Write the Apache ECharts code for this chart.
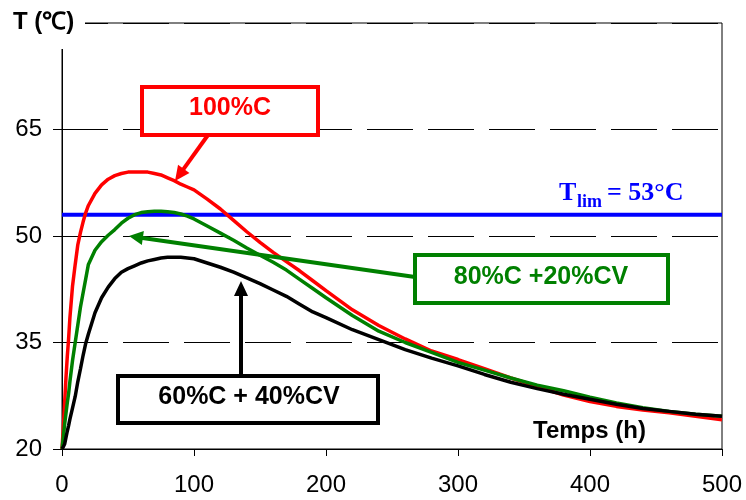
<!DOCTYPE html>
<html>
<head>
<meta charset="utf-8">
<script src="https://cdn.jsdelivr.net/npm/echarts@6/dist/echarts.min.js"></script>
<style>html,body{margin:0;padding:0;background:#fff;}#c{width:746px;height:500px;}</style>
</head>
<body>
<div id="c"></div>
<script>
// ---- data ----
var hours = [0,1,2,3,4,5,6,8,10,12,14,16,18,20,25,30,35,40,45,50,55,60,65,70,75,80,85,90,95,100,110,120,130,140,150,160,170,180,190,200,220,240,260,280,300,320,340,360,380,400,420,440,460,480,500];
var red100 = [20,23,26.5,30,33,35.5,38.5,43,46,48.8,50.5,52,53.3,54.3,56,57.2,58,58.5,58.8,59,59,59,59,58.8,58.6,58.2,57.8,57.3,56.9,56.5,55.2,53.8,52.2,50.6,49.1,47.7,46.4,45.1,43.7,42.3,39.6,37.4,35.5,33.8,32.6,31.3,30.0,28.8,27.6,26.7,26.0,25.5,25.1,24.6,24.1];
var green80 = [20,21.7,23.5,25,26.5,27.8,29.5,32.5,35,37.5,40,42,44,46,48,49.2,50.1,50.9,51.8,52.5,53,53.3,53.4,53.5,53.5,53.4,53.3,53.1,52.8,52.4,51.4,50.4,49.4,48.3,47.3,46.3,45.2,43.9,42.6,41.3,38.8,36.6,35.0,33.6,32.2,31.1,30.0,29.0,28.2,27.3,26.5,25.8,25.3,24.9,24.6];
var black60 = [20,20.3,20.7,21.6,22.5,23.3,24.2,25.8,27.4,29.5,31.3,33.2,34.9,36.2,39.2,41.3,42.8,44,44.9,45.4,45.8,46.2,46.5,46.7,46.9,47,47,47,46.9,46.8,46.2,45.6,44.9,44.1,43.3,42.4,41.5,40.4,39.3,38.5,36.8,35.4,34.0,32.8,31.7,30.5,29.4,28.5,27.7,27.0,26.3,25.7,25.3,24.9,24.6];
var tLimit = 53;
var xTicks = [0,100,200,300,400,500];
var yTicks = [20,35,50,65];
var labels = ["100%C", "80%C +20%CV", "60%C + 40%CV"];

function pairs(ys){ return hours.map(function(h,i){ return [h, ys[i]]; }); }

function arrow(x1,y1,x2,y2,color,w,hl,hw){
  var dx=x2-x1, dy=y2-y1, L=Math.sqrt(dx*dx+dy*dy), ux=dx/L, uy=dy/L;
  var bx=x2-ux*hl, by=y2-uy*hl, px=-uy, py=ux;
  return [
    {type:'line', z:100, shape:{x1:x1,y1:y1,x2:bx+ux*2,y2:by+uy*2}, style:{stroke:color,lineWidth:w}},
    {type:'polygon', z:100, shape:{points:[[x2,y2],[bx+px*hw/2,by+py*hw/2],[bx-px*hw/2,by-py*hw/2]]}, style:{fill:color}}
  ];
}

var font = '"Liberation Sans", Arial, sans-serif';
var serif = '"Liberation Serif", "Times New Roman", serif';
var chart = echarts.init(document.getElementById('c'), null, {renderer:'canvas'});

var graphics = [
  {type:'rect', z:100, shape:{x:50,y:8,width:35,height:41}, style:{fill:'#fff'}},
  {type:'text', z:101, left:13, top:10, style:{text:'T (℃)', font:'bold 24px '+font, fill:'#000'}},
  {type:'text', z:101, left:533, top:419, style:{text:'Temps (h)', font:'bold 24px '+font, fill:'#000'}},
  {type:'text', z:101, left:559, top:180, style:{text:'T', font:'bold 26px '+serif, fill:'#0000ff'}},
  {type:'text', z:101, left:577, top:193, style:{text:'lim', font:'bold 18px '+serif, fill:'#0000ff'}},
  {type:'text', z:101, left:607, top:180, style:{text:'= 53°C', font:'bold 26px '+serif, fill:'#0000ff'}},
  {type:'rect', z:100, shape:{x:142,y:87,width:176,height:48}, style:{fill:'#fff',stroke:'#ff0000',lineWidth:4}},
  {type:'text', z:101, x:230, y:108, style:{text:labels[0], font:'bold 25px '+font, fill:'#ff0000', textAlign:'center', textVerticalAlign:'middle'}},
  {type:'rect', z:100, shape:{x:415,y:255,width:253,height:48}, style:{fill:'#fff',stroke:'#008000',lineWidth:4}},
  {type:'text', z:101, x:541, y:277, style:{text:labels[1], font:'bold 25px '+font, fill:'#008000', textAlign:'center', textVerticalAlign:'middle'}},
  {type:'rect', z:100, shape:{x:118,y:376,width:260,height:47}, style:{fill:'#fff',stroke:'#000',lineWidth:4}},
  {type:'text', z:101, x:249, y:397, style:{text:labels[2], font:'bold 25px '+font, fill:'#000', textAlign:'center', textVerticalAlign:'middle'}}
];
graphics = graphics.concat(arrow(208,135,175,181,'#ff0000',4,15,14));
graphics = graphics.concat(arrow(415,277,129,236,'#008000',4,14,14));
graphics = graphics.concat(arrow(241,376,241,281,'#000',4,15,14));

chart.setOption({
  animation:false,
  backgroundColor:'#fff',
  grid:{left:62,right:24,top:23,bottom:51,show:true,borderColor:'#000',borderWidth:1,backgroundColor:'transparent'},
  xAxis:{type:'value',min:xTicks[0],max:xTicks[xTicks.length-1],interval:100,
    axisLine:{show:true,onZero:false,lineStyle:{color:'#000',width:1}},
    axisTick:{show:true,length:7,lineStyle:{color:'#000'}},
    axisLabel:{fontSize:24,fontFamily:font,color:'#000',margin:24},
    splitLine:{show:false}},
  yAxis:{type:'value',min:20,max:80,interval:15,
    axisLine:{show:true,onZero:false,lineStyle:{color:'#000',width:1}},
    axisTick:{show:true,length:9,lineStyle:{color:'#000'}},
    axisLabel:{fontSize:24,fontFamily:font,color:'#000',margin:20,
      formatter:function(v){ return yTicks.indexOf(v)>=0 ? String(v) : ''; }},
    splitLine:{show:true,lineStyle:{color:'#000',width:1,type:[46,15]}}},
  series:[
    {type:'line',name:'Tlim',data:[[xTicks[0],tLimit],[xTicks[xTicks.length-1],tLimit]],showSymbol:false,lineStyle:{color:'#0000ff',width:4},z:2},
    {type:'line',name:labels[0],data:pairs(red100),showSymbol:false,lineStyle:{color:'#ff0000',width:3.5},z:3},
    {type:'line',name:labels[1],data:pairs(green80),showSymbol:false,lineStyle:{color:'#008000',width:3.5},z:4},
    {type:'line',name:labels[2],data:pairs(black60),showSymbol:false,lineStyle:{color:'#000',width:3.5},z:5}
  ],
  graphic:graphics
});
</script>
</body>
</html>
